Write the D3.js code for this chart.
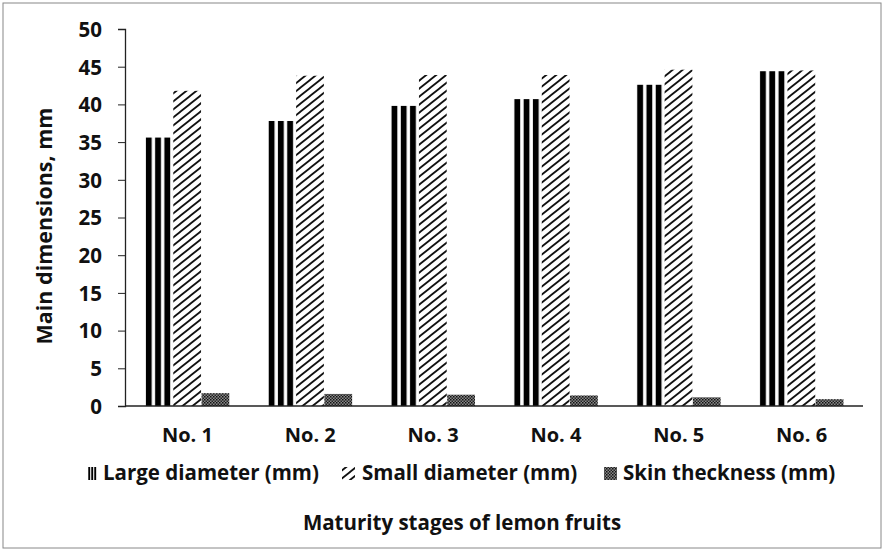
<!DOCTYPE html>
<html>
<head>
<meta charset="utf-8">
<script src="https://cdn.jsdelivr.net/npm/d3@7"></script>
<style>
  body { margin: 0; background: #fff; }
  text { font-family: "Open Sans", sans-serif; font-weight: bold; fill: #111; }
</style>
</head>
<body>
<div id="chart"></div>
<script>
// data
const stages = ["No. 1", "No. 2", "No. 3", "No. 4", "No. 5", "No. 6"];
const series = ["Large diameter (mm)", "Small diameter (mm)", "Skin theckness (mm)"];
const largeDiameter = [35.6, 37.8, 39.8, 40.7, 42.6, 44.4];
const smallDiameter = [41.8, 43.8, 43.9, 43.9, 44.6, 44.5];
const skinThickness = [1.7, 1.6, 1.5, 1.4, 1.15, 0.9];
const yTicks = [0, 5, 10, 15, 20, 25, 30, 35, 40, 45, 50];

const W = 884, H = 550;
const svg = d3.select("#chart").append("svg")
  .attr("width", W).attr("height", H);

// patterns
const defs = svg.append("defs");
const pV = defs.append("pattern").attr("id", "pLarge")
  .attr("patternUnits", "objectBoundingBox")
  .attr("patternContentUnits", "objectBoundingBox")
  .attr("width", 1 / 3).attr("height", 1);
pV.append("rect").attr("x", 0.03).attr("y", 0).attr("width", 0.21).attr("height", 1).attr("fill", "#000");

const pH = defs.append("pattern").attr("id", "pSmall")
  .attr("patternUnits", "userSpaceOnUse")
  .attr("width", 10).attr("height", 8);
pH.append("path").attr("d", "M-1,8.8 L11,-0.8 M-2,1.6 L2,-1.6 M8,9.6 L12,6.4")
  .attr("stroke", "#111").attr("stroke-width", 1.8);

const pS = defs.append("pattern").attr("id", "pSkin")
  .attr("patternUnits", "userSpaceOnUse")
  .attr("width", 3).attr("height", 3);
pS.append("rect").attr("width", 3).attr("height", 3).attr("fill", "#888");
pS.append("rect").attr("width", 1.5).attr("height", 1.5).attr("fill", "#111");
pS.append("rect").attr("x", 1.5).attr("y", 1.5).attr("width", 1.5).attr("height", 1.5).attr("fill", "#222");

const fills = ["url(#pLarge)", "url(#pSmall)", "url(#pSkin)"];
const values = [largeDiameter, smallDiameter, skinThickness];

// frame
svg.append("rect").attr("x", 3).attr("y", 3).attr("width", W - 6).attr("height", H - 5)
  .attr("fill", "none").attr("stroke", "#888").attr("stroke-width", 1);

// scales
const x = d3.scaleBand().domain(stages).range([126, 863])
  .paddingInner(0.31).paddingOuter(0.155);
const xs = d3.scaleBand().domain(series).range([0, x.bandwidth()]);
const y = d3.scaleLinear().domain([0, 50]).range([406, 29]);

// bars
stages.forEach(function(st, i) {
  series.forEach(function(s, j) {
    const v = values[j][i];
    svg.append("rect")
      .attr("x", x(st) + xs(s))
      .attr("y", y(v))
      .attr("width", xs.bandwidth() - 0.5)
      .attr("height", y(0) - y(v))
      .attr("fill", fills[j]);
  });
});

// y axis
const yAxis = svg.append("g").attr("transform", "translate(125,0)")
  .call(d3.axisLeft(y).tickValues(yTicks).tickSize(7).tickPadding(16));
yAxis.select(".domain").attr("stroke", "#222").attr("stroke-width", 1.3);
yAxis.selectAll(".tick line").attr("stroke", "#222");
yAxis.selectAll("text").style("font-size", "20.5px").attr("dy", "0.36em");

// x axis
const xAxis = svg.append("g").attr("transform", "translate(0,406)")
  .call(d3.axisBottom(x).tickSize(0).tickPadding(22));
xAxis.select(".domain").attr("d", "M125,0H863").attr("stroke", "#222").attr("stroke-width", 1.3);
xAxis.selectAll("text").style("font-size", "20px");

// y title
svg.append("text")
  .attr("transform", "translate(44,226) rotate(-90)")
  .attr("dy", "0.35em")
  .attr("text-anchor", "middle")
  .style("font-size", "21.5px")
  .text("Main dimensions, mm");

// legend
const legIcon = [88, 342, 604];
const legText = [103, 362, 623];
const leg = svg.append("g");
series.forEach(function(s, j) {
  leg.append("rect")
    .attr("x", legIcon[j]).attr("y", 467)
    .attr("width", j === 0 ? 9 : 13).attr("height", 13)
    .attr("fill", fills[j]);
  leg.append("text")
    .attr("x", legText[j]).attr("y", 473)
    .attr("dy", "0.35em")
    .style("font-size", "20.5px")
    .text(s);
});

// x title
svg.append("text")
  .attr("x", 462).attr("y", 523)
  .attr("dy", "0.35em")
  .attr("text-anchor", "middle")
  .style("font-size", "20.5px")
  .text("Maturity stages of lemon fruits");
</script>
</body>
</html>
